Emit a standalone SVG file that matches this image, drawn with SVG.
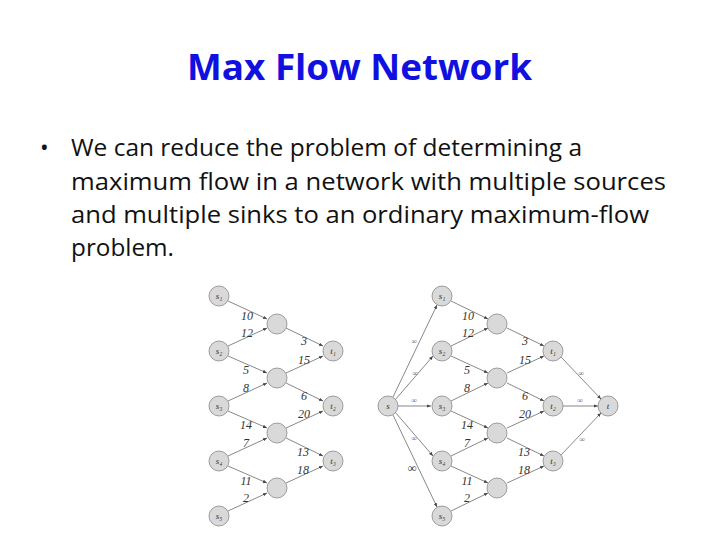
<svg xmlns="http://www.w3.org/2000/svg" width="720" height="540" viewBox="0 0 720 540">
<defs>
<marker id="a" viewBox="0 0 10 10" refX="10" refY="5" markerWidth="6" markerHeight="6" orient="auto"><path d="M0,1 L10,5 L0,9 z" fill="#444"/></marker>
<style>
.n{fill:#d9d9d9;stroke:#888;stroke-width:0.8}
.e{stroke:#555;stroke-width:0.7;fill:none;marker-end:url(#a)}
.l{font-family:"Liberation Serif",serif;font-size:12px;font-style:italic;fill:#333;text-anchor:middle}
.s{font-family:"Liberation Serif",serif;font-size:9px;font-style:italic;fill:#333;text-anchor:middle}
.w{font-family:"Liberation Serif",serif;font-size:8px;fill:#666;text-anchor:middle}
</style>
</defs>
<rect width="720" height="540" fill="#fff"/>
<text x="187" y="80" textLength="345" lengthAdjust="spacingAndGlyphs" font-family="'Open Sans','Liberation Sans',sans-serif" font-size="35" font-weight="bold" fill="#1010e0">Max Flow Network</text>
<g font-family="'Open Sans','Liberation Sans',sans-serif" font-size="23" fill="#111">
<text x="40" y="156">•</text>
<text x="71" y="156" textLength="511" lengthAdjust="spacingAndGlyphs">We can reduce the problem of determining a</text>
<text x="71" y="190" textLength="595" lengthAdjust="spacingAndGlyphs">maximum flow in a network with multiple sources</text>
<text x="71" y="223" textLength="578" lengthAdjust="spacingAndGlyphs">and multiple sinks to an ordinary maximum-flow</text>
<text x="71" y="256" textLength="103" lengthAdjust="spacingAndGlyphs">problem.</text>
</g>
<g id="connectors">
<path class="e" d="M228,301 L267,319"/><path class="e" d="M228,346 L267,328"/>
<path class="e" d="M228,356 L267,373"/><path class="e" d="M228,401 L267,383"/>
<path class="e" d="M228,411 L267,428"/><path class="e" d="M228,456 L267,438"/>
<path class="e" d="M228,466 L267,483"/><path class="e" d="M228,511 L267,493"/>
<path class="e" d="M286,328 L323,346"/><path class="e" d="M286,373 L323,356"/>
<path class="e" d="M286,383 L323,401"/><path class="e" d="M286,428 L323,411"/>
<path class="e" d="M286,438 L323,456"/><path class="e" d="M286,483 L323,466"/>
<path class="e" d="M393,397 L437,305"/><path class="e" d="M395,400 L433,356"/>
<path class="e" d="M398,406 L431,406"/><path class="e" d="M395,412 L433,456"/>
<path class="e" d="M393,415 L437,507"/>
<path class="e" d="M451,301 L488,319"/><path class="e" d="M451,346 L488,328"/>
<path class="e" d="M451,356 L488,373"/><path class="e" d="M451,401 L488,383"/>
<path class="e" d="M451,411 L488,428"/><path class="e" d="M451,456 L488,438"/>
<path class="e" d="M451,466 L488,483"/><path class="e" d="M451,511 L488,493"/>
<path class="e" d="M507,328 L544,346"/><path class="e" d="M507,373 L544,356"/>
<path class="e" d="M507,383 L544,401"/><path class="e" d="M507,428 L544,411"/>
<path class="e" d="M507,438 L544,456"/><path class="e" d="M507,483 L544,466"/>
<path class="e" d="M561,357 L601,399"/><path class="e" d="M563,406 L598,406"/>
<path class="e" d="M561,455 L601,413"/>
</g>
<g id="labels">
<text class="l" x="247" y="320">10</text><text class="l" x="247" y="337">12</text>
<text class="l" x="304" y="345">3</text><text class="l" x="246" y="374">5</text>
<text class="l" x="304" y="364">15</text><text class="l" x="246" y="392">8</text>
<text class="l" x="304" y="400">6</text><text class="l" x="246" y="429">14</text>
<text class="l" x="304" y="418">20</text><text class="l" x="246" y="447">7</text>
<text class="l" x="303" y="456">13</text><text class="l" x="246" y="485">11</text>
<text class="l" x="303" y="474">18</text><text class="l" x="246" y="502">2</text>
<text class="l" x="468" y="320">10</text><text class="l" x="468" y="337">12</text>
<text class="l" x="525" y="345">3</text><text class="l" x="467" y="374">5</text>
<text class="l" x="525" y="364">15</text><text class="l" x="467" y="392">8</text>
<text class="l" x="525" y="400">6</text><text class="l" x="467" y="429">14</text>
<text class="l" x="525" y="418">20</text><text class="l" x="467" y="447">7</text>
<text class="l" x="524" y="456">13</text><text class="l" x="467" y="485">11</text>
<text class="l" x="524" y="474">18</text><text class="l" x="467" y="502">2</text>
<text class="w" x="414" y="344">∞</text><text class="w" x="415" y="376">∞</text>
<text class="w" x="414" y="403">∞</text><text class="w" x="414" y="441">∞</text>
<text class="l" x="412" y="472" font-size="9">∞</text>
<text class="w" x="581" y="376">∞</text><text class="w" x="580" y="403">∞</text>
<text class="w" x="582" y="442">∞</text>
</g>
<g id="L_s1"><circle class="n" cx="219" cy="296" r="10"/><text class="s" x="219" y="299">s₁</text></g>
<g id="L_s2"><circle class="n" cx="219" cy="351" r="10"/><text class="s" x="219" y="354">s₂</text></g>
<g id="L_s3"><circle class="n" cx="219" cy="406" r="10"/><text class="s" x="219" y="409">s₃</text></g>
<g id="L_s4"><circle class="n" cx="219" cy="461" r="10"/><text class="s" x="219" y="464">s₄</text></g>
<g id="L_s5"><circle class="n" cx="219" cy="516" r="10"/><text class="s" x="219" y="519">s₅</text></g>
<g id="L_m1"><circle class="n" cx="277" cy="324" r="10"/></g>
<g id="L_m2"><circle class="n" cx="277" cy="378" r="10"/></g>
<g id="L_m3"><circle class="n" cx="277" cy="433" r="10"/></g>
<g id="L_m4"><circle class="n" cx="277" cy="488" r="10"/></g>
<g id="L_t1"><circle class="n" cx="333" cy="351" r="10"/><text class="s" x="333" y="354">t₁</text></g>
<g id="L_t2"><circle class="n" cx="333" cy="406" r="10"/><text class="s" x="333" y="409">t₂</text></g>
<g id="L_t3"><circle class="n" cx="333" cy="461" r="10"/><text class="s" x="333" y="464">t₃</text></g>
<g id="R_s"><circle class="n" cx="388" cy="406" r="10"/><text class="s" x="388" y="409">s</text></g>
<g id="R_s1"><circle class="n" cx="442" cy="296" r="10"/><text class="s" x="442" y="299">s₁</text></g>
<g id="R_s2"><circle class="n" cx="442" cy="351" r="10"/><text class="s" x="442" y="354">s₂</text></g>
<g id="R_s3"><circle class="n" cx="442" cy="406" r="10"/><text class="s" x="442" y="409">s₃</text></g>
<g id="R_s4"><circle class="n" cx="442" cy="461" r="10"/><text class="s" x="442" y="464">s₄</text></g>
<g id="R_s5"><circle class="n" cx="442" cy="516" r="10"/><text class="s" x="442" y="519">s₅</text></g>
<g id="R_m1"><circle class="n" cx="497" cy="324" r="10"/></g>
<g id="R_m2"><circle class="n" cx="497" cy="378" r="10"/></g>
<g id="R_m3"><circle class="n" cx="497" cy="433" r="10"/></g>
<g id="R_m4"><circle class="n" cx="497" cy="488" r="10"/></g>
<g id="R_t1"><circle class="n" cx="553" cy="351" r="10"/><text class="s" x="553" y="354">t₁</text></g>
<g id="R_t2"><circle class="n" cx="553" cy="406" r="10"/><text class="s" x="553" y="409">t₂</text></g>
<g id="R_t3"><circle class="n" cx="553" cy="461" r="10"/><text class="s" x="553" y="464">t₃</text></g>
<g id="R_t"><circle class="n" cx="608" cy="406" r="10"/><text class="s" x="608" y="409">t</text></g>
</svg>
